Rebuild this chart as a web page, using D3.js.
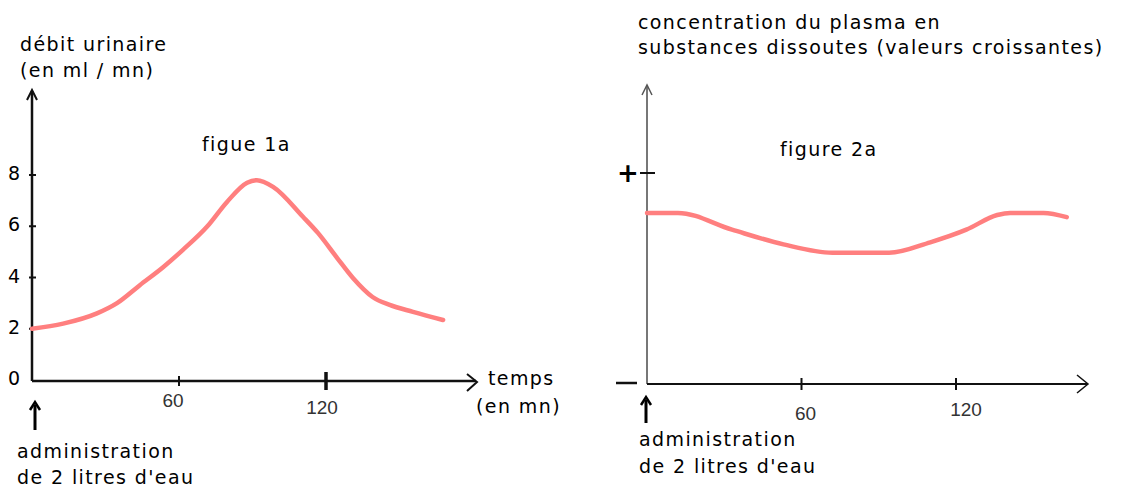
<!DOCTYPE html>
<html>
<head>
<meta charset="utf-8">
<script src="https://cdn.jsdelivr.net/npm/d3@7"></script>
<style>
  body { margin: 0; background: #fff; }
  svg { display: block; }
  text { font-family: "DejaVu Sans", Verdana, sans-serif; fill: #000; }
  .lbl { letter-spacing: 1.4px; }
  .tick-lbl { font-family: "Liberation Sans", Arial, sans-serif; fill: #333; }
</style>
</head>
<body>
<div id="chart"></div>
<script>
// figure 1a : débit urinaire
const timeFig1 = [0, 12.7, 26.5, 34.7, 44, 53.5, 61.6, 71.4, 79.6, 87.8, 91.8, 98.4, 110.6, 116.7, 124.5, 131, 139, 146, 155.5, 167.8];
const debit = [2.0, 2.2, 2.6, 3.0, 3.7, 4.4, 5.08, 5.98, 6.95, 7.7, 7.8, 7.54, 6.37, 5.74, 4.77, 3.98, 3.24, 2.93, 2.66, 2.34];
const yTicksFig1 = [0, 2, 4, 6, 8];
const xTicks = [60, 120];

// figure 2a : concentration du plasma
const timeFig2 = [0, 12, 33, 53, 72, 94, 110, 124, 136, 141, 154, 163];
const conc = [0.81, 0.81, 0.73, 0.66, 0.62, 0.62, 0.67, 0.73, 0.8, 0.81, 0.81, 0.79];

const W = 1124, H = 487;
const RED = '#ff7f7f';

const svg = d3.select('#chart')
    .append('svg')
    .attr('width', W)
    .attr('height', H);

function arrowHead(g, x, y, dir, color, w) {
    // flèche ouverte, dir = 'up' | 'right'
    const d = dir === 'up'
        ? `M${x - 5},${y + 10}L${x},${y}L${x + 5},${y + 10}`
        : `M${x - 10},${y - 8}L${x},${y}L${x - 10},${y + 9}`;
    g.append('path').attr('d', d)
        .attr('fill', 'none').attr('stroke', color || '#111').attr('stroke-width', w || 2);
}

function upArrow(g, x, y1, y2) {
    g.append('line').attr('x1', x).attr('x2', x).attr('y1', y1 + 3).attr('y2', y2)
        .attr('stroke', '#000').attr('stroke-width', 3);
    g.append('path').attr('d', `M${x - 5},${y1 + 8}L${x},${y1}L${x + 5},${y1 + 8}`)
        .attr('fill', 'none').attr('stroke', '#000').attr('stroke-width', 2.5);
}

function lines(g, arr, x, y0, dy) {
    arr.forEach((t, i) => {
        g.append('text').attr('class', 'lbl')
            .attr('x', x).attr('y', y0 + i * dy)
            .style('font-size', '19px').text(t);
    });
}

/**
 * figure 1a
 */
const g1 = svg.append('g');
const x1 = d3.scaleLinear().domain([0, 120]).range([32, 326]);
const y1 = d3.scaleLinear().domain([0, 8]).range([380, 175]);

// axes
g1.append('line').attr('x1', x1(0)).attr('x2', x1(0)).attr('y1', 381).attr('y2', 91)
    .attr('stroke', '#111').attr('stroke-width', 2.5);
arrowHead(g1, x1(0), 90, 'up');
g1.append('line').attr('x1', x1(0)).attr('x2', 476).attr('y1', 381).attr('y2', 381)
    .attr('stroke', '#111').attr('stroke-width', 2.5);
arrowHead(g1, 477, 382, 'right');

// graduations y
g1.selectAll('.ytick')
    .data(yTicksFig1.filter(d => d > 0))
    .join('line')
    .attr('x1', x1(0) - 3).attr('x2', x1(0) + 4)
    .attr('y1', d => y1(d)).attr('y2', d => y1(d))
    .attr('stroke', '#111').attr('stroke-width', 2);
g1.selectAll('.ylbl')
    .data(yTicksFig1)
    .join('text')
    .attr('x', 20)
    .attr('y', d => y1(d) + 5)
    .attr('text-anchor', 'end')
    .style('font-size', '19px')
    .text(d => d);

// graduations x
g1.selectAll('.xtick')
    .data(xTicks)
    .join('line')
    .attr('x1', d => x1(d)).attr('x2', d => x1(d))
    .attr('y1', d => d === 120 ? 372 : 376)
    .attr('y2', d => d === 120 ? 390 : 386)
    .attr('stroke', '#111')
    .attr('stroke-width', d => d === 120 ? 3.5 : 2);
g1.selectAll('.xlbl')
    .data(xTicks)
    .join('text')
    .attr('class', 'tick-lbl')
    .attr('x', d => d === 120 ? x1(d) - 4 : x1(d) - 6)
    .attr('y', d => d === 120 ? 414 : 407)
    .attr('text-anchor', 'middle')
    .style('font-size', '19px')
    .text(d => d);

// courbe
const line1 = d3.line()
    .x((d, i) => x1(timeFig1[i]))
    .y(d => y1(d))
    .curve(d3.curveMonotoneX);
g1.append('path')
    .attr('d', line1(debit))
    .attr('fill', 'none')
    .attr('stroke', RED)
    .attr('stroke-width', 4.5)
    .attr('stroke-linecap', 'round');

// textes
lines(g1, ['débit urinaire', '(en ml / mn)'], 20, 51, 26);
lines(g1, ['figue 1a'], 202, 151, 0);
lines(g1, ['temps'], 488, 385, 0);
lines(g1, ['(en mn)'], 476, 413, 0);
upArrow(g1, 35, 402, 430);
lines(g1, ['administration', 'de 2 litres d\'eau'], 17, 458, 26);

/**
 * figure 2a
 */
const g2 = svg.append('g');
const x2 = d3.scaleLinear().domain([0, 120]).range([647, 956]);
const y2 = d3.scaleLinear().domain([0, 1]).range([383, 173]);

g2.append('line').attr('x1', x2(0)).attr('x2', x2(0)).attr('y1', 384).attr('y2', 86)
    .attr('stroke', '#777').attr('stroke-width', 2);
arrowHead(g2, x2(0), 85, 'up', '#555', 1.5);
g2.append('line').attr('x1', x2(0)).attr('x2', 1087).attr('y1', 384).attr('y2', 384)
    .attr('stroke', '#111').attr('stroke-width', 2);
g2.append('path').attr('d', `M1077,375L1088,384L1077,393`)
    .attr('fill', 'none').attr('stroke', '#111').attr('stroke-width', 1.5);

// + / -
g2.append('line').attr('x1', x2(0) - 7).attr('x2', x2(0) + 8)
    .attr('y1', y2(1)).attr('y2', y2(1))
    .attr('stroke', '#111').attr('stroke-width', 2);
g2.append('text').attr('x', 628).attr('y', y2(1) + 9)
    .attr('text-anchor', 'middle')
    .style('font-size', '26px').style('font-weight', 'bold')
    .text('+');
g2.append('line').attr('x1', 616).attr('x2', 637)
    .attr('y1', y2(0)).attr('y2', y2(0))
    .attr('stroke', '#111').attr('stroke-width', 2.5);

g2.selectAll('.xtick')
    .data(xTicks)
    .join('line')
    .attr('x1', d => x2(d)).attr('x2', d => x2(d))
    .attr('y1', 378).attr('y2', 390)
    .attr('stroke', '#111').attr('stroke-width', 2);
g2.selectAll('.xlbl')
    .data(xTicks)
    .join('text')
    .attr('class', 'tick-lbl')
    .attr('x', d => x2(d) + (d === 120 ? 10 : 4))
    .attr('y', d => d === 120 ? 416 : 420)
    .attr('text-anchor', 'middle')
    .style('font-size', '19px')
    .text(d => d);

const line2 = d3.line()
    .x((d, i) => x2(timeFig2[i]))
    .y(d => y2(d))
    .curve(d3.curveMonotoneX);
g2.append('path')
    .attr('d', line2(conc))
    .attr('fill', 'none')
    .attr('stroke', RED)
    .attr('stroke-width', 4.5)
    .attr('stroke-linecap', 'round');

lines(g2, ['concentration du plasma en', 'substances dissoutes (valeurs croissantes)'], 638, 29, 25);
lines(g2, ['figure 2a'], 780, 156, 0);
upArrow(g2, 646, 397, 423);
lines(g2, ['administration', 'de 2 litres d\'eau'], 639, 446, 27);
</script>
</body>
</html>
